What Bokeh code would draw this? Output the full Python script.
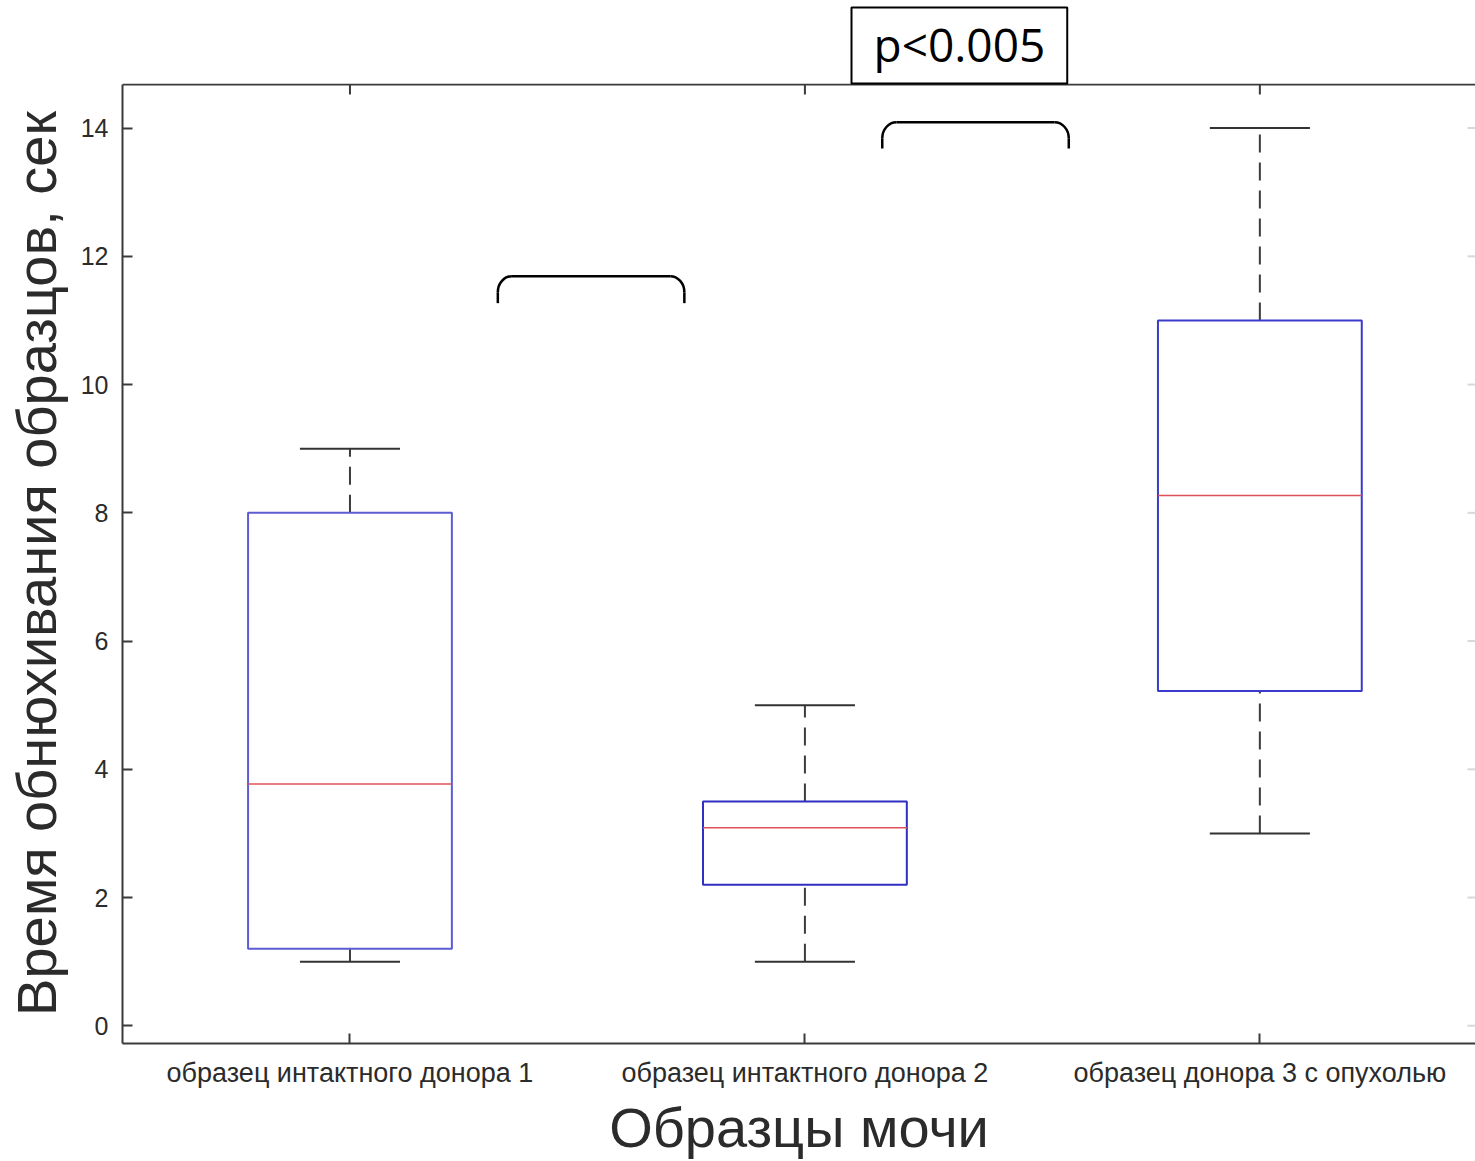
from bokeh.plotting import figure
from bokeh.models import Range1d, FixedTicker, Span, Title
from bokeh.embed import file_html
from bokeh.resources import INLINE
import numpy as np

# --- data -------------------------------------------------------------
categories = [
    "образец интактного донора 1",
    "образец интактного донора 2",
    "образец донора 3 с опухолью",
]
whisker_low = [1.0, 1.0, 3.0]
q1 = [1.2, 2.2, 5.22]
median = [3.77, 3.09, 8.27]
q3 = [8.0, 3.5, 11.0]
whisker_high = [9.0, 5.0, 14.0]
y_ticks = [0, 2, 4, 6, 8, 10, 12, 14]

# significance brackets between neighbouring groups
bracket_left = [1.325, 2.17]
bracket_right = [1.735, 2.58]
bracket_top = [11.69, 14.09]
bracket_foot = [11.27, 13.68]
p_text = "p<0.005"

# --- styling ----------------------------------------------------------
AX = "#3a3a3a"
TXT = "#2b2b2b"
BOX_COLORS = ["#5c5cd4", "#2f2fc2", "#3a3acc"]
MED_COLOR = "#e0505a"
HALF_W = 0.224
CAP_W = 0.11
FONT = "Liberation Sans"

Y_LO, Y_HI = -0.276, 14.68
X_LO, X_HI = 0.5, 3.474
PX_PER_Y = 64.12
PX_PER_X = 455.0

xs = np.arange(1, len(categories) + 1, dtype=float)
lo = np.array(whisker_low)
hi = np.array(whisker_high)
b1 = np.array(q1)
b3 = np.array(q3)
md = np.array(median)

p = figure(
    width=1475, height=1161,
    x_range=Range1d(X_LO, X_HI), y_range=Range1d(Y_LO, Y_HI + 1.0 / PX_PER_Y),
    output_backend="svg", toolbar_location=None,
    min_border_left=122, min_border_right=0,
    min_border_top=83, min_border_bottom=0,
    x_axis_label="Образцы мочи",
    y_axis_label="Время обнюхивания образцов, сек",
)
p.grid.visible = False
p.outline_line_color = None
p.background_fill_color = "white"
p.border_fill_color = "white"

# whiskers (dashed) and caps
p.segment(xs, b3, xs, hi, line_color="#3c3c3c", line_width=2, line_dash="18 10")
p.segment(xs, lo, xs, b1, line_color="#3c3c3c", line_width=2, line_dash="18 10")
p.segment(xs - CAP_W, hi, xs + CAP_W, hi, line_color="#333333", line_width=2)
p.segment(xs - CAP_W, lo, xs + CAP_W, lo, line_color="#333333", line_width=2)

# boxes and medians
p.quad(left=xs - HALF_W, right=xs + HALF_W, bottom=b1, top=b3,
       fill_color=None, line_color=BOX_COLORS, line_width=2)
p.segment(xs - HALF_W, md, xs + HALF_W, md, line_color=MED_COLOR, line_width=1.5)

# rounded significance brackets
bl = np.array(bracket_left)
br = np.array(bracket_right)
bt = np.array(bracket_top)
bf = np.array(bracket_foot)
rx, ry, k = 0.031, 0.25, 0.552
bk = dict(line_color="black", line_width=2.5)
p.segment(bl, bf, bl, bt - ry, **bk)
p.segment(br, bf, br, bt - ry, **bk)
p.segment(bl + rx, bt, br - rx, bt, **bk)
p.bezier(x0=bl, y0=bt - ry, x1=bl + rx, y1=bt,
         cx0=bl, cy0=bt - ry * (1 - k), cx1=bl + rx * (1 - k), cy1=bt, **bk)
p.bezier(x0=br - rx, y0=bt, x1=br, y1=bt - ry,
         cx0=br - rx * (1 - k), cy0=bt, cx1=br, cy1=bt - ry * (1 - k), **bk)

# axes
for ax in (p.xaxis[0], p.yaxis[0]):
    ax.axis_line_color = AX
    ax.axis_line_width = 2
    ax.major_tick_line_color = AX
    ax.major_tick_line_width = 2
    ax.major_tick_in = 10
    ax.major_tick_out = 0
    ax.minor_tick_line_color = None
    ax.major_label_text_font = FONT
    ax.major_label_text_color = TXT
    ax.axis_label_text_font = FONT
    ax.axis_label_text_font_style = "normal"
    ax.axis_label_text_color = TXT
    ax.axis_label_text_line_height = 1.0
    ax.major_label_text_line_height = 1.0

p.xaxis.ticker = FixedTicker(ticks=list(xs))
p.xaxis.major_label_overrides = {int(x): c for x, c in zip(xs, categories)}
p.xaxis.major_label_text_font_size = "27px"
p.xaxis.major_label_standoff = 14
p.xaxis.axis_label_text_font_size = "56px"
p.xaxis.axis_label_standoff = 5

p.yaxis.ticker = FixedTicker(ticks=y_ticks)
p.yaxis.bounds = (Y_LO, Y_HI)
p.yaxis.major_label_text_font_size = "25px"
p.yaxis.major_label_standoff = 14
p.yaxis.axis_label_text_font_size = "56px"
p.yaxis.axis_label_standoff = 10

# top edge of the axes box with inward ticks, faint ticks on the right edge
p.add_layout(Span(location=Y_HI, dimension="width", line_color=AX, line_width=2))
tick_dy = 10 / PX_PER_Y
tick_dx = 8 / PX_PER_X
p.segment(xs, Y_HI, xs, Y_HI - tick_dy, line_color=AX, line_width=2)
yt = np.array(y_ticks, dtype=float)
p.segment(X_HI - tick_dx, yt, X_HI, yt, line_color="#d8d8d8", line_width=2)

# p-value note in a framed box above the axes
p.title = Title(
    text=p_text, align="left", offset=729, standoff=0,
    text_font="Open Sans", text_font_size="46px", text_font_style="normal",
    text_color="black", text_line_height=1.0,
    border_line_color="black", border_line_width=2,
    background_fill_color="white",
    padding=dict(left=22, right=22, top=5, bottom=9),
)

open("out.html", "w").write(file_html(p, INLINE))
